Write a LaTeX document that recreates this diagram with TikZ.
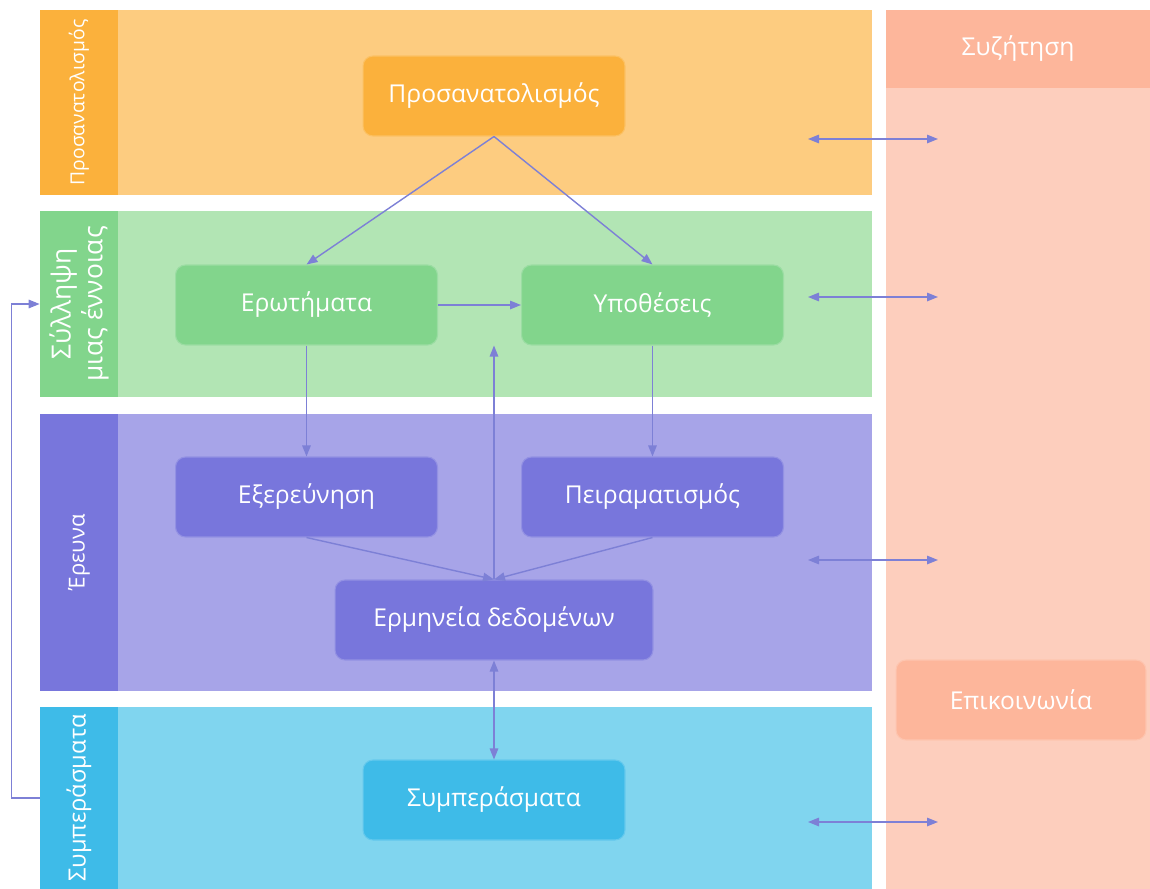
\documentclass[tikz,border=0pt]{standalone}
\usepackage{fontspec}
\setmainfont{Open Sans}
\usetikzlibrary{arrows.meta, positioning}

\definecolor{orangeD}{HTML}{FBB13C}
\definecolor{orangeL}{HTML}{FDCC80}
\definecolor{greenD}{HTML}{82D58C}
\definecolor{greenL}{HTML}{B2E5B4}
\definecolor{purpleD}{HTML}{7876DC}
\definecolor{purpleL}{HTML}{A7A4E8}
\definecolor{blueD}{HTML}{3EBBE8}
\definecolor{blueL}{HTML}{80D5EF}
\definecolor{salmonD}{HTML}{FDB69B}
\definecolor{salmonL}{HTML}{FDCEBD}
\definecolor{linkc}{HTML}{7D80D6}

\begin{document}
\begin{tikzpicture}[x=0.02cm, y=-0.02cm,
    box/.style={rounded corners=0.2cm, minimum width=5.24cm, minimum height=1.6cm, text=white,
      font=\fontsize{14}{16}\selectfont, fill=#1, draw=#1!80!white, line width=0.6pt},
    strip/.style={inner sep=0, minimum width=1.56cm, fill=#1},
    strip label/.style={rotate=90, text=white, align=center, font=\fontsize{#1}{18}\selectfont},
    link/.style={draw=linkc, line width=0.8pt, -{Triangle[length=2.2mm, width=1.7mm]}},
    both/.style={link, {Triangle[length=2.2mm, width=1.7mm]}-{Triangle[length=2.2mm, width=1.7mm]}}]

  \useasboundingbox (0,0) rectangle (1150,889);

  % bands
  \fill[orangeL] (40,10) rectangle (872,195);
  \fill[greenL] (40,211) rectangle (872,397);
  \fill[purpleL] (40,414) rectangle (872,691);
  \fill[blueL] (40,707) rectangle (872,889);
  \fill[salmonL] (886,10) rectangle (1150,889);
  \fill[salmonD] (886,10) rectangle (1150,88);
  \node[text=white, font=\fontsize{14}{16}\selectfont] (talk) at (1018,49) {Συζήτηση};

  % strips on the left
  \node[strip=orangeD, minimum height=3.7cm] (stripA) at (79,102.5) {};
  \node[strip=greenD, minimum height=3.72cm] (stripB) at (79,304) {};
  \node[strip=purpleD, minimum height=5.54cm] (stripC) at (79,552.5) {};
  \node[strip=blueD, minimum height=3.64cm] (stripD) at (79,798) {};
  \node[strip label=11] at (stripA) {Προσανατολισμός};
  \node[strip label=15] at (stripB) {Σύλληψη\\μιας έννοιας};
  \node[strip label=12.5] at (stripC) {Έρευνα};
  \node[strip label=13.5] at (stripD) {Συμπεράσματα};

  % steps
  \node[box=orangeD] (orient) at (494,96) {Προσανατολισμός};
  \node[box=greenD] (quest) at (306.5,305) {Ερωτήματα};
  \node[box=greenD] (hypo) at (652.5,305) {Υποθέσεις};
  \node[box=purpleD] (explore) at (306.5,497) {Εξερεύνηση};
  \node[box=purpleD] (experiment) at (652.5,497) {Πειραματισμός};
  \node[box=purpleD, minimum width=6.36cm] (interp) at (494,620) {Ερμηνεία δεδομένων};
  \node[box=blueD] (concl) at (494,800) {Συμπεράσματα};
  \node[box=salmonD, minimum width=5cm] (comm) at (1021,700) {Επικοινωνία};

  \draw[link] (orient.south) -- (quest.north);
  \draw[link] (orient.south) -- (hypo.north);
  \draw[link] (quest.east) -- (hypo.west);
  \draw[link] (quest.south) -- (explore.north);
  \draw[link] (hypo.south) -- (experiment.north);
  \draw[link] (explore.south) -- (interp.north);
  \draw[link] (experiment.south) -- (interp.north);
  \coordinate (back) at (interp.north |- quest.south);
  \draw[link] (interp.north) -- (back);
  \draw[both] (interp.south) -- (concl.north);
  \draw[link] (stripD.west) -- ++(-28,0) |- (stripB.west);

  % links to the discussion
  \foreach \y [count=\i] in {139,297,560,822}{
    \coordinate (talkA\i) at (808,\y);
    \coordinate (talkB\i) at (938,\y);
    \draw[both] (talkA\i) -- (talkB\i);
  }
\end{tikzpicture}
\end{document}
